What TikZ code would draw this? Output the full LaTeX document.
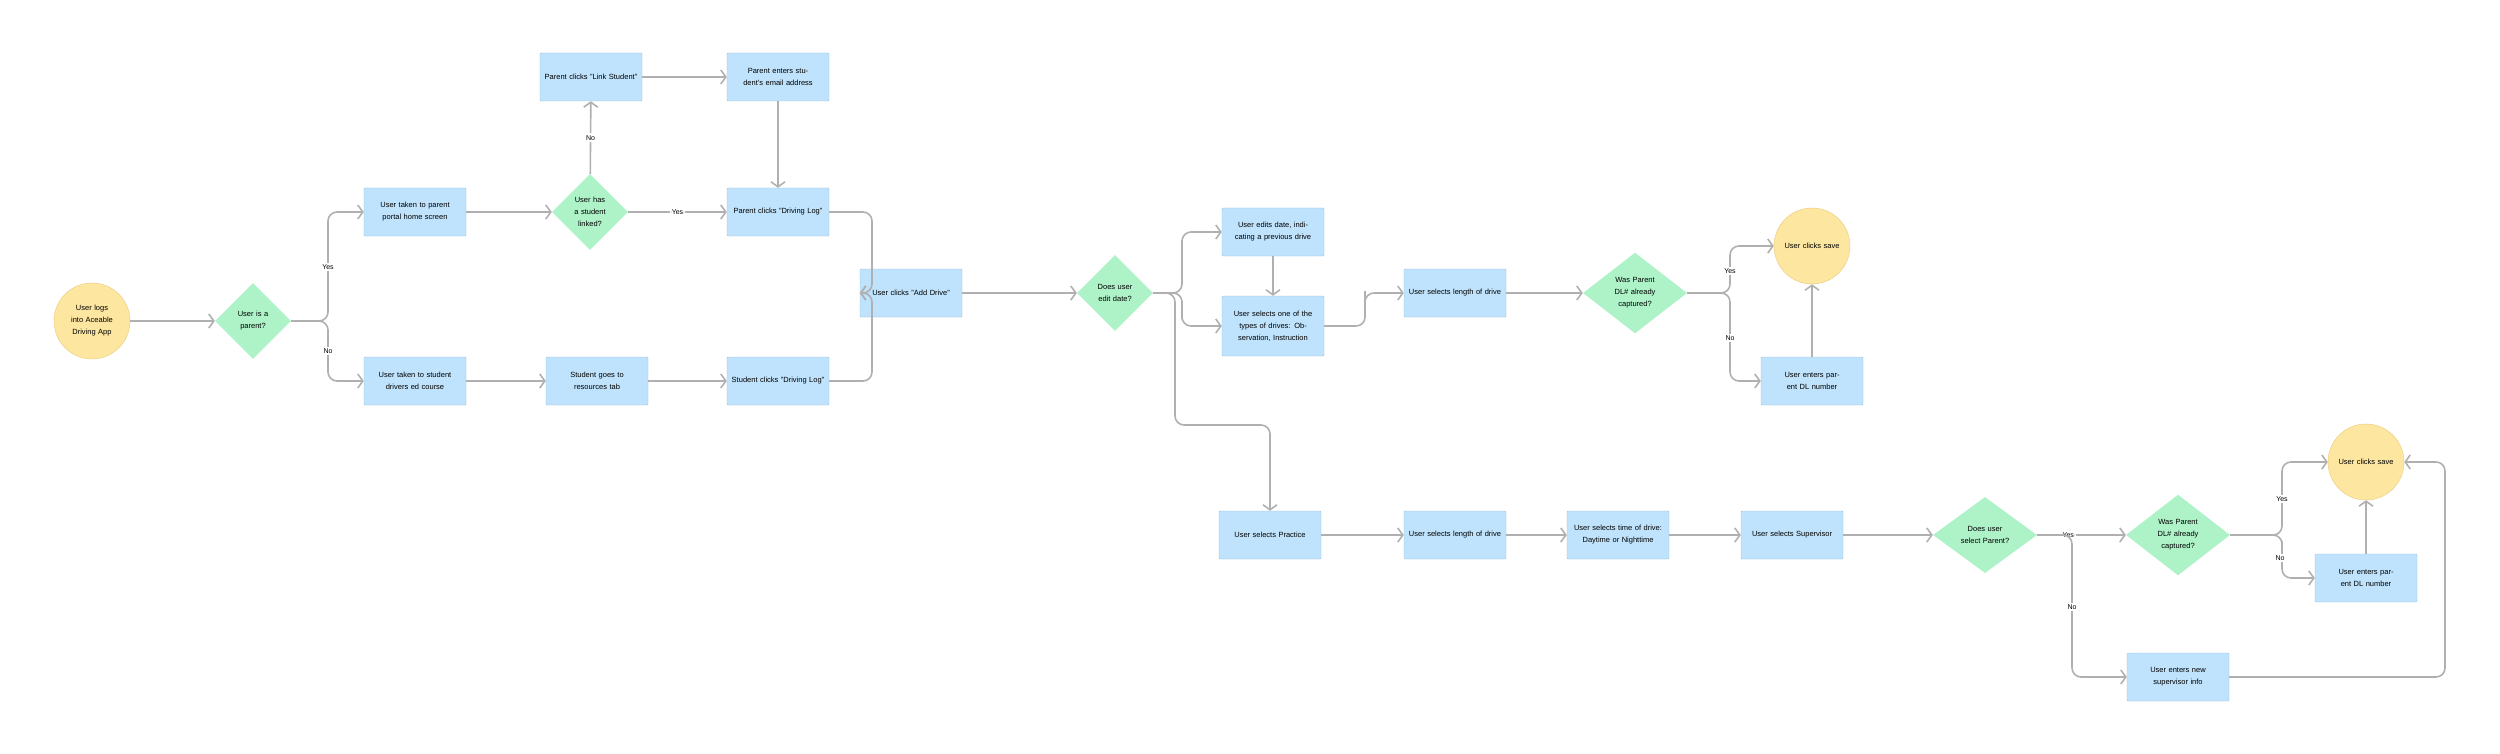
\documentclass[tikz,border=0pt]{standalone}
\usepackage{fontspec}
\setmainfont{Liberation Sans}
\usetikzlibrary{shapes.geometric,arrows.meta}
\definecolor{boxblue}{HTML}{BFE3FC}
\definecolor{boxline}{HTML}{9CC3DE}
\definecolor{decgreen}{HTML}{AEF2C8}
\definecolor{endyellow}{HTML}{FDE6A0}
\definecolor{endline}{HTML}{EBCB7A}
\definecolor{flow}{HTML}{B0B0B0}
\tikzset{
  proc/.style={rectangle, draw=boxline, fill=boxblue, minimum width=102pt, minimum height=48pt, text width=96pt, align=center, inner sep=2pt, rounded corners=1pt},
  term/.style={circle, draw=endline, fill=endyellow, minimum size=76pt, text width=58pt, align=center, inner sep=0pt},
  dec/.style={diamond, fill=decgreen, minimum width=76pt, minimum height=76pt, text width=40pt, align=center, inner sep=0pt, aspect=1},
  wdec/.style={dec, minimum width=104pt, text width=50pt},
  link/.style={draw=flow, line width=1.6pt, rounded corners=9pt, -{Straight Barb[length=5pt,width=14pt,line width=1.6pt]}},
  lbl/.style={fill=white, inner sep=2pt, font=\fontsize{7}{9}\selectfont}
}
\begin{document}
\begin{tikzpicture}[x=1pt,y=-1pt,font=\fontsize{7.5}{12}\selectfont]
    \useasboundingbox (0,0) rectangle (2500,754);

    % Top flow
    \node[term] (login) at (92,321) {User logs into Aceable Driving App};
    \node[dec] (isparent) at (253,321) {User is a parent?};
    \node[proc] (ptaken) at (415,212) {User taken to parent portal home screen};
    \node[dec] (haslink) at (590,212) {User has a student linked?};
    \node[proc] (linkstud) at (591,77) {Parent clicks "Link Student"};
    \node[proc] (email) at (778,77) {Parent enters student's email address};
    \node[proc] (plog) at (778,212) {Parent clicks "Driving Log"};
    \node[proc] (staken) at (415,381) {User taken to student drivers ed course};
    \node[proc] (resources) at (597,381) {Student goes to resources tab};
    \node[proc] (slog) at (778,381) {Student clicks "Driving Log"};
    \node[proc] (adddrive) at (911,293) {User clicks "Add Drive"};
    \node[dec] (editdate) at (1115,293) {Does user edit date?};
    \node[proc] (editsdate) at (1273,232) {User edits date, indicating a previous drive};
    \node[proc, minimum height=60pt] (types) at (1273,326) {User selects one of the types of drives: Observation, Instruction};
    \node[proc] (lengthA) at (1455,293) {User selects length of drive};
    \node[wdec] (dlA) at (1635,293) {Was Parent DL\# already captured?};
    \node[term] (saveA) at (1812,246) {User clicks save};
    \node[proc] (enterdlA) at (1812,381) {User enters parent DL number};

    % Bottom flow
    \node[proc] (practice) at (1270,535) {User selects Practice};
    \node[proc] (lengthB) at (1455,535) {User selects length of drive};
    \node[proc] (daytime) at (1618,535) {User selects time of drive: Daytime or Nighttime};
    \node[proc] (supervisor) at (1792,535) {User selects Supervisor};
    \node[wdec] (selparent) at (1985,535) {Does user select Parent?};
    \node[wdec] (dlB) at (2178,535) {Was Parent DL\# already captured?};
    \node[term] (saveB) at (2366,462) {User clicks save};
    \node[proc] (enterdlB) at (2366,578) {User enters parent DL number};
    \node[proc] (newsup) at (2178,677) {User enters new supervisor info};

    % Connectors
    \draw[link] (login) -- (isparent);
    \draw[link] (isparent.east) -| (328,260) |- (ptaken.west);
    \draw[link] (isparent.east) -| (328,340) |- (staken.west);
    \node[lbl] (yesA) at (328,267) {Yes};
    \node[lbl] (noA) at (328,351) {No};
    \draw[link] (ptaken) -- (haslink);
    \draw[link] (haslink) -- node[lbl] {Yes} (plog);
    \draw[link] (haslink) -- node[lbl] {No} (linkstud);
    \draw[link] (linkstud) -- (email);
    \draw[link] (email) -- (plog);
    \draw[link] (staken) -- (resources);
    \draw[link] (resources) -- (slog);
    \draw[link] (plog.east) -| (872,260) |- (adddrive.west);
    \draw[link] (slog.east) -| (872,330) |- (adddrive.west);
    \draw[link] (adddrive) -- (editdate);
    \draw[link] (editdate.east) -| (1182,260) |- (editsdate.west);
    \draw[link] (editdate.east) -| (1182,310) |- (types.west);
    \draw[link] (editdate.east) -| (1175,425) -| (practice.north);
    \draw[link] (editsdate) -- (types);
    \draw[link] (types.east) -| (1365,300) |- (lengthA.west);
    \draw[link] (lengthA) -- (dlA);
    \draw[link] (dlA.east) -| (1730,265) |- (saveA.west);
    \draw[link] (dlA.east) -| (1730,320) |- (enterdlA.west);
    \node[lbl] (yesB) at (1730,271) {Yes};
    \node[lbl] (noB) at (1730,338) {No};
    \draw[link] (enterdlA) -- (saveA);
    \draw[link] (practice) -- (lengthB);
    \draw[link] (lengthB) -- (daytime);
    \draw[link] (daytime) -- (supervisor);
    \draw[link] (supervisor) -- (selparent);
    \draw[link] (selparent) -- node[lbl, pos=0.35] {Yes} (dlB);
    \draw[link] (selparent.east) -| (2072,600) |- (newsup.west);
    \node[lbl] (noC) at (2072,607) {No};
    \draw[link] (dlB.east) -| (2282,490) |- (saveB.west);
    \draw[link] (dlB.east) -| (2282,550) |- (enterdlB.west);
    \node[lbl] (yesC) at (2282,499) {Yes};
    \node[lbl] (noD) at (2280,558) {No};
    \draw[link] (enterdlB) -- (saveB);
    \draw[link] (newsup.east) -| (2445,560) |- (saveB.east);
\end{tikzpicture}
\end{document}
